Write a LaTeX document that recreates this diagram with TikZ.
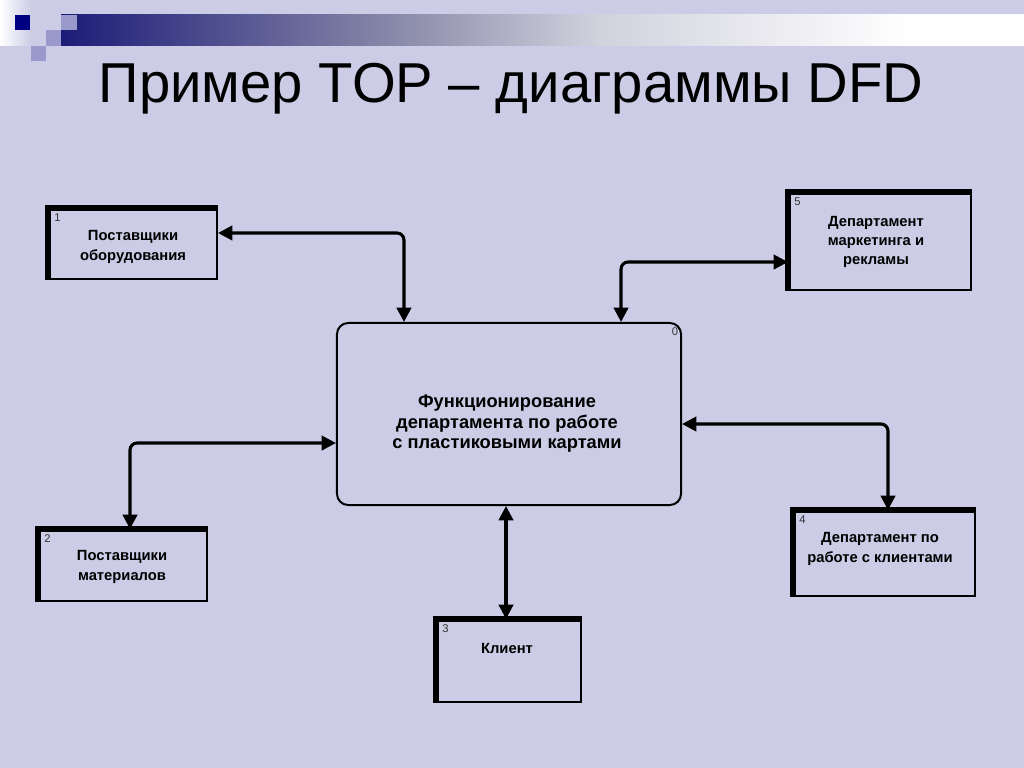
\documentclass[tikz,border=0pt]{standalone}
\usepackage{fontspec}
\setmainfont{Liberation Sans}
\usetikzlibrary{arrows.meta, positioning, calc}
\definecolor{cbg}{HTML}{CCCCE6}
\definecolor{cnavy}{HTML}{000080}
\definecolor{clight}{HTML}{9999CC}
\definecolor{cbar}{HTML}{1C1C78}
\definecolor{cbarmid}{HTML}{8A8AAA}
\definecolor{cbarlt}{HTML}{D2D2DE}
% the inner 50bp of a shading is what covers the path
\pgfdeclarehorizontalshading{topbar}{100bp}{color(0bp)=(cbar); color(25bp)=(cbar); color(42.5bp)=(cbarmid); color(53bp)=(cbarlt); color(69bp)=(white); color(100bp)=(white)}
\tikzset{
  every picture/.style={line width=1.4pt},
  entity/.style={draw=black, fill=cbg, inner sep=0pt},
  etext/.style={align=center, inner sep=0pt, font=\fontsize{10.5}{13.6}\selectfont\bfseries},
  thickedge/.style={draw=black, line width=3.6pt},
  process/.style={draw=black, fill=cbg, rounded corners=8pt},
  ptext/.style={align=center, inner sep=0pt, font=\fontsize{13}{14.6}\selectfont\bfseries},
  num/.style={anchor=north west, inner sep=1.5pt, font=\fontsize{8}{9}\selectfont, text=black!80},
  flow/.style={{Triangle[length=3.6mm, width=3.6mm]}-{Triangle[length=3.6mm, width=3.6mm]}, line width=2.2pt, rounded corners=5pt},
  title/.style={anchor=base, font=\fontsize{40}{48}\selectfont},
}
\begin{document}
\begin{tikzpicture}[x=0.025cm, y=-0.025cm]
  % background and corner decoration
  \fill[cbg] (0,0) rectangle (1024,768);
  \useasboundingbox (0,0) rectangle (1024,768);
  \shade[left color=white, right color=cbg] (0,0) rectangle (31,46);
  \shade[shading=topbar] (61,15) rectangle (1024,46);
  \fill[cnavy] (15,15) rectangle (30,30);
  \fill[clight] (61,15) rectangle (77,30);
  \fill[clight] (46,30) rectangle (61,46);
  \fill[clight] (31,46) rectangle (46,61);
  \node[title] (head) at (511,103) {Пример TOP – диаграммы DFD};

  % central process
  \node[process, minimum width=8.6cm, minimum height=4.55cm] (proc) at (509,414) {};
  \node[ptext] (proctxt) at (507,424)
    {Функционирование\\департамента по работе\\с пластиковыми картами};
  \node[num, anchor=north east, inner sep=2pt] (n0) at ([yshift=-0.05cm]proc.north east) {0};

  % external entities
  \node[entity, minimum width=4.2cm, minimum height=1.75cm] (supeq) at (133,244) {};
  \node[etext] (supeqtxt) at (133,247) {Поставщики\\оборудования};
  \node[entity, minimum width=4.55cm, minimum height=2.425cm] (market) at (880,241.5) {};
  \node[etext] (markettxt) at (876,242) {Департамент\\маркетинга и\\рекламы};
  \node[entity, minimum width=4.2cm, minimum height=1.775cm] (supmat) at (123,565.5) {};
  \node[etext] (supmattxt) at (122,567) {Поставщики\\материалов};
  \node[entity, minimum width=3.6cm, minimum height=2.05cm] (client) at (509,661) {};
  \node[etext] (clienttxt) at (507,648) {Клиент};
  \node[entity, minimum width=4.525cm, minimum height=2.125cm] (cdept) at (884.5,553.5) {};
  \node[etext] (cdepttxt) at (880,549) {Департамент по\\работе с клиентами};
  \foreach \e/\n in {supeq/1, market/5, supmat/2, client/3, cdept/4} {
    \draw[thickedge] (\e.south west) |- (\e.north east);
    \node[num] (n\n) at ([shift={(0.08cm,-0.06cm)}]\e.north west) {\n};
  }

  % data flows
  \draw[flow] ([yshift=0.275cm]supeq.east) -| ([xshift=-2.625cm]proc.north);
  \draw[flow] ([yshift=-0.5125cm]market.west) -| ([xshift=2.8cm]proc.north);
  \draw[flow] ([yshift=-0.725cm]proc.west) -| ([xshift=0.175cm]supmat.north);
  \draw[flow] ([xshift=-0.075cm]proc.south) -- ([xshift=-0.075cm]client.north);
  \draw[flow] ([yshift=-0.25cm]proc.east) -| ([xshift=0.0875cm]cdept.north);
\end{tikzpicture}
\end{document}
